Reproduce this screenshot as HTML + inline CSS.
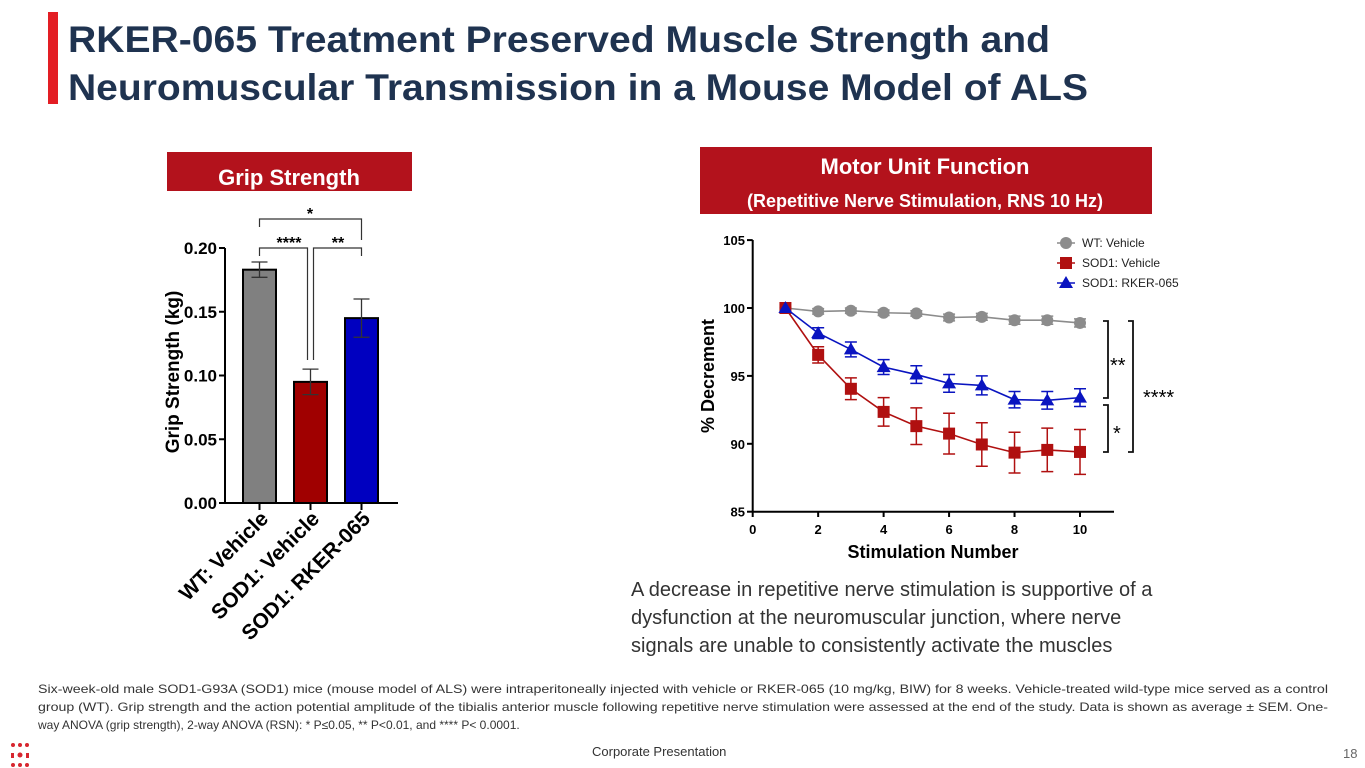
<!DOCTYPE html>
<html><head><meta charset="utf-8"><style>
body{margin:0;background:#fff;}
svg{display:block;font-family:"Liberation Sans",sans-serif;}
</style></head><body>
<svg id="s" width="1365" height="768" viewBox="0 0 1365 768">
<rect x="48" y="12" width="10" height="92" fill="#e31e24"/>
<g fill="#1f3350" font-weight="bold" font-size="37">
<text x="68" y="52" textLength="982" lengthAdjust="spacingAndGlyphs">RKER-065 Treatment Preserved Muscle Strength and</text>
<text x="68" y="100" textLength="1020" lengthAdjust="spacingAndGlyphs">Neuromuscular Transmission in a Mouse Model of ALS</text>
</g>
<rect x="167" y="152" width="245" height="39" fill="#b3121c"/>
<text x="289" y="185" fill="#fff" font-weight="bold" font-size="22" text-anchor="middle">Grip Strength</text>
<rect x="700" y="147" width="452" height="67" fill="#b3121c"/>
<text x="925" y="174" fill="#fff" font-weight="bold" font-size="22" text-anchor="middle">Motor Unit Function</text>
<text x="925" y="207" fill="#fff" font-weight="bold" font-size="18" text-anchor="middle">(Repetitive Nerve Stimulation, RNS 10 Hz)</text>
<g id="bar"></g>
<g id="line"></g>
<g font-size="20" fill="#333">
<text x="631" y="596">A decrease in repetitive nerve stimulation is supportive of a</text>
<text x="631" y="624">dysfunction at the neuromuscular junction, where nerve</text>
<text x="631" y="652">signals are unable to consistently activate the muscles</text>
</g>
<g font-size="12" fill="#333">
<text x="38" y="693" textLength="1290" lengthAdjust="spacingAndGlyphs">Six-week-old male SOD1-G93A (SOD1) mice (mouse model of ALS) were intraperitoneally injected with vehicle or RKER-065 (10 mg/kg, BIW) for 8 weeks. Vehicle-treated wild-type mice served as a control</text>
<text x="38" y="711" textLength="1290" lengthAdjust="spacingAndGlyphs">group (WT). Grip strength and the action potential amplitude of the tibialis anterior muscle following repetitive nerve stimulation were assessed at the end of the study. Data is shown as average ± SEM. One-</text>
<text x="38" y="729">way ANOVA (grip strength), 2-way ANOVA (RSN): * P≤0.05, ** P&lt;0.01, and **** P&lt; 0.0001.</text>
</g>
<text x="592" y="756" font-size="13" fill="#333">Corporate Presentation</text>
<text x="1343" y="758" font-size="13" fill="#666">18</text>
<g fill="#d7262f">
<circle cx="20" cy="755" r="2.5"/><circle cx="13" cy="745" r="2"/><circle cx="27" cy="745" r="2"/><circle cx="20" cy="745" r="2"/><rect x="11" y="753" width="3" height="5"/><rect x="26" y="753" width="3" height="5"/><circle cx="13" cy="765" r="2"/><circle cx="20" cy="765" r="2"/><circle cx="27" cy="765" r="2"/>
</g>
</svg>
<script>
const NS="http://www.w3.org/2000/svg";
function mk(p,t,a,txt){const e=document.createElementNS(NS,t);for(const k in a)e.setAttribute(k,a[k]);if(txt!==undefined)e.textContent=txt;p.appendChild(e);return e;}

// ---- bar chart data ----
const barCats=["WT: Vehicle","SOD1: Vehicle","SOD1: RKER-065"];
const barVals=[0.183,0.095,0.145];
const barErr=[0.006,0.010,0.015];
const barColors=["#808080","#a00000","#0000c0"];
const barTicks=[0,0.05,0.10,0.15,0.20];
const barTickLabels=["0.00","0.05","0.10","0.15","0.20"];

// ---- line chart data ----
const stim=[1,2,3,4,5,6,7,8,9,10];
const wtVals=[100,99.75,99.8,99.65,99.6,99.3,99.35,99.1,99.1,98.9];
const wtErr=[0,0.2,0.2,0.2,0.2,0.25,0.25,0.3,0.3,0.3];
const sodVals=[100,96.55,94.05,92.35,91.3,90.75,89.95,89.35,89.55,89.4];
const sodErr=[0,0.6,0.8,1.05,1.35,1.5,1.6,1.5,1.6,1.65];
const rkVals=[100,98.15,96.95,95.65,95.1,94.45,94.3,93.25,93.2,93.4];
const rkErr=[0,0.4,0.55,0.55,0.65,0.65,0.7,0.6,0.65,0.65];
const xTicks=[0,2,4,6,8,10];
const yTicks=[85,90,95,100,105];
const seriesNames=["WT: Vehicle","SOD1: Vehicle","SOD1: RKER-065"];

// bar chart
(function(){
const g=document.getElementById('bar');
const y=v=>503-(v/0.20)*255;
const bw=33, xs=i=>243+i*51;
mk(g,'line',{x1:225,y1:503,x2:398,y2:503,stroke:'#000','stroke-width':2});
mk(g,'line',{x1:225,y1:248,x2:225,y2:504,stroke:'#000','stroke-width':2});
barTicks.forEach((t,i)=>{
 mk(g,'line',{x1:219,y1:y(t),x2:225,y2:y(t),stroke:'#000','stroke-width':2});
 const l=mk(g,'text',{x:217,y:y(t)+6,'text-anchor':'end','font-size':17,'font-weight':'bold'},barTickLabels[i]);
 
 
});
barVals.forEach((v,i)=>{
 const x=xs(i), cx=x+bw/2;
 const r=mk(g,'rect',{x:x,y:y(v),width:bw,height:503-y(v),fill:barColors[i],stroke:'#000','stroke-width':2});
 
 
 mk(g,'path',{d:`M${cx} ${y(v+barErr[i])}V${y(v-barErr[i])}M${cx-8} ${y(v+barErr[i])}H${cx+8}M${cx-8} ${y(v-barErr[i])}H${cx+8}`,stroke:'#333','stroke-width':1.3,fill:'none'});
 mk(g,'line',{x1:cx,y1:503,x2:cx,y2:510,stroke:'#000','stroke-width':2});
 const l=mk(g,'text',{transform:`translate(${cx+10},${520}) rotate(-45)`,'text-anchor':'end','font-size':21,'font-weight':'bold'},barCats[i]);
 
 
});
const yt=mk(g,'text',{transform:'translate(179,372) rotate(-90)','text-anchor':'middle','font-size':19,'font-weight':'bold'},'Grip Strength (kg)');


const c0=xs(0)+bw/2,c1=xs(1)+bw/2,c2=xs(2)+bw/2;
mk(g,'path',{d:`M${c0} 256V248H${c1-3}V360M${c1+3} 360V248H${c2}V256`,stroke:'#333','stroke-width':1.2,fill:'none'});
mk(g,'path',{d:`M${c0} 227V219H${c2}V240`,stroke:'#333','stroke-width':1.2,fill:'none'});
mk(g,'text',{x:(c0+c1)/2+4,y:248,'text-anchor':'middle','font-size':16,'font-weight':'bold'},'****');
mk(g,'text',{x:(c1+c2)/2+2,y:248,'text-anchor':'middle','font-size':16,'font-weight':'bold'},'**');
mk(g,'text',{x:310,y:219,'text-anchor':'middle','font-size':16,'font-weight':'bold'},'*');
})();

// line chart
(function(){
const g=document.getElementById('line');
const X=v=>752.7+v*32.73, Y=v=>511.7-(v-85)*13.58;
mk(g,'line',{x1:752.7,y1:511.7,x2:1114,y2:511.7,stroke:'#000','stroke-width':2});
mk(g,'line',{x1:752.7,y1:240,x2:752.7,y2:512,stroke:'#000','stroke-width':2});
xTicks.forEach(t=>{
 mk(g,'line',{x1:X(t),y1:511.7,x2:X(t),y2:517,stroke:'#000','stroke-width':2});
 const l=mk(g,'text',{x:X(t),y:534,'text-anchor':'middle','font-size':13,'font-weight':'bold'},String(t));
 
 
});
yTicks.forEach(t=>{
 mk(g,'line',{x1:747,y1:Y(t),x2:752.7,y2:Y(t),stroke:'#000','stroke-width':2});
 const l=mk(g,'text',{x:745,y:Y(t)+5,'text-anchor':'end','font-size':13,'font-weight':'bold'},String(t));
 
 
});
const xt=mk(g,'text',{x:933,y:558,'text-anchor':'middle','font-size':18,'font-weight':'bold'},'Stimulation Number');


const yt=mk(g,'text',{transform:'translate(714,376) rotate(-90)','text-anchor':'middle','font-size':18,'font-weight':'bold'},'% Decrement');


const series=[[wtVals,wtErr,'#8c8c8c','c'],[sodVals,sodErr,'#b01010','s'],[rkVals,rkErr,'#0a14c0','t']];
function marker(p,x,y,col,sh){
 if(sh==='c')return mk(p,'circle',{cx:x,cy:y,r:6,fill:col});
 if(sh==='s')return mk(p,'rect',{x:x-6,y:y-6,width:12,height:12,fill:col});
 return mk(p,'path',{d:`M${x} ${y-7}L${x+7} ${y+5}L${x-7} ${y+5}Z`,fill:col});
}
series.forEach((s,si)=>{
 const [vals,err,col,sh]=s;
 const sg=mk(g,'g',{});
 
 
 mk(sg,'polyline',{points:stim.map((x,i)=>X(x)+','+Y(vals[i])).join(' '),fill:'none',stroke:col,'stroke-width':1.6});
 stim.forEach((x,i)=>{
  if(err[i]>0){const px=X(x),a=Y(vals[i]+err[i]),b=Y(vals[i]-err[i]);
   mk(sg,'path',{d:`M${px} ${a}V${b}M${px-6} ${a}H${px+6}M${px-6} ${b}H${px+6}`,stroke:col,'stroke-width':1.5,fill:'none'});}
  const m=marker(sg,X(x),Y(vals[i]),col,sh);
  
  
 });
});
series.forEach((s,i)=>{
 const ly=243+i*20;
 const lg=mk(g,'g',{});
 
 
 mk(lg,'line',{x1:1057,y1:ly,x2:1075,y2:ly,stroke:s[2],'stroke-width':1.6});
 marker(lg,1066,ly,s[2],s[3]);
 mk(lg,'text',{x:1082,y:ly+4,'font-size':12,fill:'#222'},seriesNames[i]);
});
mk(g,'path',{d:'M1103 321H1108V398H1103',stroke:'#111','stroke-width':1.8,fill:'none'});
mk(g,'path',{d:'M1103 405H1108V452H1103',stroke:'#111','stroke-width':1.8,fill:'none'});
mk(g,'path',{d:'M1128 321H1133V452H1128',stroke:'#111','stroke-width':1.8,fill:'none'});
mk(g,'text',{x:1110,y:372,'font-size':20},'**');
mk(g,'text',{x:1113,y:440,'font-size':20},'*');
mk(g,'text',{x:1143,y:404,'font-size':20},'****');
})();
</script>
</body></html>
